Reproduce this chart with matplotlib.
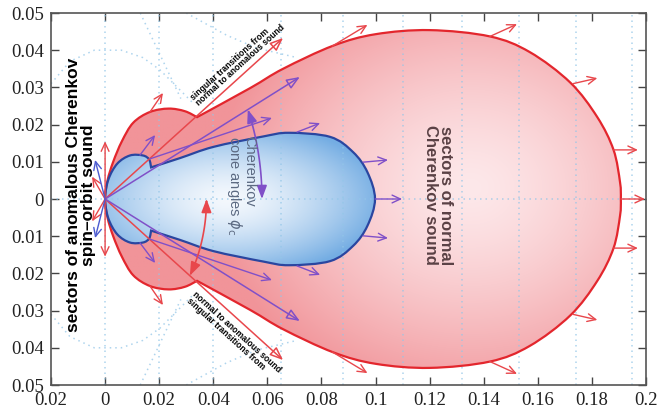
import numpy as np
import matplotlib
matplotlib.use("Agg")
import matplotlib.pyplot as plt
from matplotlib.path import Path
from matplotlib.patches import PathPatch, FancyArrowPatch
from matplotlib.colors import to_rgb

plt.rcParams["font.family"] = ["Liberation Serif", "DejaVu Serif"]

# ---------------- data ----------------
x_ticks = [-0.02, 0.0, 0.02, 0.04, 0.06, 0.08, 0.10, 0.12, 0.14, 0.16, 0.18, 0.20]
x_tick_labels = ["0.02", "0", "0.02", "0.04", "0.06", "0.08", "0.1", "0.12", "0.14", "0.16", "0.18", "0.2"]
y_ticks = [-0.05, -0.04, -0.03, -0.02, -0.01, 0.0, 0.01, 0.02, 0.03, 0.04, 0.05]
y_tick_labels = ["0.05", "0.04", "0.03", "0.02", "0.01", "0", "0.01", "0.02", "0.03", "0.04", "0.05"]

# outer sector (normal + anomalous sound), upper half; lower half is the mirror image
red_lobe_x = [0.0, 0.0009, 0.0030, 0.0062, 0.0104, 0.0166, 0.0235, 0.0295, 0.0340]
red_lobe_y = [0.0, 0.0050, 0.0100, 0.0155, 0.0205, 0.0234, 0.0243, 0.0236, 0.0220]
red_main_x = [0.0340, 0.0536, 0.0658, 0.0843, 0.1000, 0.1200, 0.1423, 0.1570, 0.1720, 0.1820, 0.1880, 0.1904, 0.1907]
red_main_y = [0.0220, 0.0298, 0.0350, 0.0412, 0.0443, 0.0454, 0.0437, 0.0395, 0.0313, 0.0220, 0.0132, 0.0045, 0.0]

# Cherenkov cone (blue), upper half
blue_lobe_x = [0.0, 0.0012, 0.0045, 0.0092, 0.0140, 0.0163, 0.0170]
blue_lobe_y = [0.0, 0.0052, 0.0095, 0.0117, 0.0117, 0.0106, 0.0085]
blue_main_x = [0.0170, 0.0277, 0.0400, 0.0584, 0.0680, 0.0832, 0.0917, 0.0970, 0.0998]
blue_main_y = [0.0085, 0.0110, 0.0140, 0.0168, 0.0178, 0.0167, 0.0126, 0.0072, 0.0]

# singular transition lines (end points, upper half)
red_singular_end = (0.0658, 0.0433)
purple_singular_end = (0.0720, 0.0328)

# normal (group velocity) arrows, upper half: start x, start y, end x, end y
red_arrows = [(0.0, 0.0, 0.0, 0.0155),
              (0.0, 0.0, -0.0048, 0.0060),
              (0.0166, 0.0234, 0.0214, 0.0285),
              (0.0840, 0.0411, 0.0970, 0.0468),
              (0.1423, 0.0437, 0.1523, 0.0470),
              (0.1730, 0.0310, 0.1820, 0.0325),
              (0.1880, 0.0132, 0.1970, 0.0132)]
red_axis_arrows = [(0.1907, 0.0, 0.1996, 0.0)]
purple_arrows = [(0.0129, 0.0118, 0.0185, 0.0172),
                 (0.0166, 0.0108, 0.0617, 0.0218),
                 (0.0710, 0.0180, 0.0795, 0.0204),
                 (0.0954, 0.0099, 0.1046, 0.0105)]
purple_axis_arrows = [(0.0998, 0.0, 0.1098, 0.0)]
blue_arrows = [(0.0, 0.0, -0.0037, 0.0105)]

# cone-angle arcs: radius, start angle, end angle (degrees)
purple_arc = (0.058, 0.0, 24.5)
red_arc = (0.0375, 0.0, -33.3)

# dotted guide lines
guide_vertical_x = [0.0, 0.02, 0.04, 0.065, 0.088, 0.110, 0.132, 0.153, 0.174, 0.195]
guide_a_x = [-0.02, -0.013, -0.004, 0.006, 0.014, 0.0203, 0.0325]
guide_a_y = [0.031, 0.037, 0.040, 0.040, 0.038, 0.0347, 0.0258]
guide_b_x = [0.030, 0.045, 0.056, 0.071]
guide_b_y = [0.050, 0.044, 0.0406, 0.038]
guide_c_x = [0.013, 0.028]
guide_c_y = [0.050, 0.027]

# ---------------- style ----------------
RED_EDGE = "#e3262d"
RED_ARROW = "#e8474c"
BLUE_EDGE = "#2a46a0"
PURPLE = "#8050c8"
INDIGO = "#4c5bd0"
GUIDE = "#93c6e8"
XMIN, XMAX, YMIN, YMAX = -0.02, 0.2, -0.05, 0.05

fig = plt.figure(figsize=(6.63, 4.16), dpi=100)
ax = fig.add_axes([51 / 663, 1 - 385 / 416, 595 / 663, 372 / 416])


def catmull_segments(P):
    P = np.asarray(P, float)
    n = len(P)
    verts = []
    for i in range(n - 1):
        p0 = P[i - 1] if i > 0 else P[i]
        p1, p2 = P[i], P[i + 1]
        p3 = P[i + 2] if i + 2 < n else P[i + 1]
        verts += [p1 + (p2 - p0) / 6.0, p2 - (p3 - p1) / 6.0, p2]
    return verts


def closed_shape(lobe_x, lobe_y, main_x, main_y):
    lobe = np.column_stack([lobe_x, lobe_y])
    main = np.column_stack([main_x, main_y])
    lobe_low = lobe[::-1] * [1, -1]
    main_low = main[::-1] * [1, -1]
    piece1 = np.vstack([lobe_low, lobe[1:]])          # lower cusp -> origin -> upper cusp
    piece2 = np.vstack([main, main_low[1:]])          # upper cusp -> tip -> lower cusp
    verts = [piece1[0]]
    codes = [Path.MOVETO]
    for seg in (piece1, piece2):
        v = catmull_segments(seg)
        verts += v
        codes += [Path.CURVE4] * len(v)
    verts.append(piece1[0])
    codes.append(Path.CLOSEPOLY)
    return Path(np.array(verts), codes)


def gradient_fill(path, center, radii, c_in, c_out, power, zorder):
    xs = np.linspace(XMIN, XMAX, 500)
    ys = np.linspace(YMIN, YMAX, 300)
    X, Y = np.meshgrid(xs, ys)
    r = np.sqrt(((X - center[0]) / radii[0]) ** 2 + ((Y - center[1]) / radii[1]) ** 2)
    t = np.clip(r, 0, 1) ** power
    ci, co = np.array(to_rgb(c_in)), np.array(to_rgb(c_out))
    img = ci[None, None, :] * (1 - t[..., None]) + co[None, None, :] * t[..., None]
    im = ax.imshow(img, extent=(XMIN, XMAX, YMIN, YMAX), origin="lower",
                   aspect="auto", interpolation="bilinear", zorder=zorder)
    clip = PathPatch(path, transform=ax.transData, fc="none", ec="none")
    ax.add_patch(clip)
    im.set_clip_path(clip)


red_path = closed_shape(red_lobe_x, red_lobe_y, red_main_x, red_main_y)
blue_path = closed_shape(blue_lobe_x, blue_lobe_y, blue_main_x, blue_main_y)

gradient_fill(red_path, (0.135, 0.003), (0.095, 0.058), "#fde8ea", "#f19499", 1.4, 2)
ax.add_patch(PathPatch(red_path, fc="none", ec=RED_EDGE, lw=1.6, zorder=6))
gradient_fill(blue_path, (0.045, 0.0), (0.058, 0.021), "#f4f8fd", "#74ade3", 1.5, 4)
ax.add_patch(PathPatch(blue_path, fc="none", ec=BLUE_EDGE, lw=1.6, zorder=6))

# dotted guides
dot = dict(color=GUIDE, lw=1.1, ls=(0, (1, 2.6)), zorder=5, alpha=0.75)
for gx in guide_vertical_x:
    ax.plot([gx, gx], [YMIN, YMAX], **dot)
ax.plot([XMIN, XMAX], [0, 0], **dot)
for gxs, gys in ((guide_a_x, guide_a_y), (guide_b_x, guide_b_y), (guide_c_x, guide_c_y)):
    ax.plot(gxs, gys, **dot)
    ax.plot(gxs, [-v for v in gys], **dot)


def arrow(x0, y0, x1, y1, color, style="->,head_length=0.6,head_width=0.28", lw=1.0, fc=None, z=8):
    props = dict(arrowstyle=style, color=color, lw=lw, shrinkA=0, shrinkB=0)
    if fc is not None:
        props = dict(arrowstyle=style, edgecolor=color, facecolor=fc, lw=lw, shrinkA=0, shrinkB=0)
    return ax.annotate("", xy=(x1, y1), xytext=(x0, y0), arrowprops=props, zorder=z)


# singular lines with open triangles
open_tri = "-|>,head_length=0.8,head_width=0.32"
for end, col in ((red_singular_end, RED_ARROW), (purple_singular_end, PURPLE)):
    arrow(0, 0, end[0], end[1], col, style=open_tri, lw=1.1, fc="none", z=7)
    arrow(0, 0, end[0], -end[1], col, style=open_tri, lw=1.1, fc="none", z=7)

for lst, col in ((red_arrows, RED_ARROW), (purple_arrows, PURPLE), (blue_arrows, INDIGO)):
    for (x0, y0, x1, y1) in lst:
        arrow(x0, y0, x1, y1, col)
        arrow(x0, -y0, x1, -y1, col)
for (x0, y0, x1, y1) in red_axis_arrows:
    arrow(x0, y0, x1, y1, RED_ARROW)
for (x0, y0, x1, y1) in purple_axis_arrows:
    arrow(x0, y0, x1, y1, PURPLE)

# cone-angle arcs
for (rad, a0, a1), col in ((purple_arc, PURPLE), (red_arc, RED_ARROW)):
    th = np.radians(np.linspace(a0, a1, 40))
    arc = Path(np.column_stack([rad * np.cos(th), rad * np.sin(th)]))
    ax.add_patch(FancyArrowPatch(path=arc, arrowstyle="<|-|>,head_length=0.8,head_width=0.3",
                                 mutation_scale=10, color=col, lw=1.2, zorder=9))

# texts
sans = ["Liberation Sans", "DejaVu Sans"]
ax.text(-0.0089, 0.001, "sectors of anomalous Cherenkov\nspin\u2013orbit sound", rotation=90,
        ha="center", va="center", multialignment="center", fontsize=12.5, fontweight="bold",
        family=sans, color="black", linespacing=0.95, zorder=10)
ax.text(0.1231, 0.001, "sectors of normal\nCherenkov sound", rotation=-90,
        ha="center", va="center", multialignment="center", fontsize=12, fontweight="bold",
        family=sans, color="#5a4145", linespacing=0.95, zorder=10)
ax.text(0.0500, 0.0035, "Cherenkov\ncone angles $\\phi_{\\rm c}$", rotation=-90,
        ha="center", va="center", multialignment="left", fontsize=10.5,
        family=sans, color="#5c6a82", linespacing=0.9, zorder=10)
ang = np.degrees(np.arctan2(red_singular_end[1] * 3720, red_singular_end[0] * 2705))
ax.text(0.0352, 0.0245, "singular transitions from\nnormal to anomalous sound", rotation=ang,
        rotation_mode="anchor", ha="left", va="bottom", fontsize=6.2, fontweight="bold",
        family=sans, color="black", linespacing=0.9, zorder=10)
ax.text(0.0340, -0.0245, "normal to anomalous sound\nsingular transitions from", rotation=-ang,
        rotation_mode="anchor", ha="left", va="top", fontsize=6.2, fontweight="bold",
        family=sans, color="black", linespacing=0.9, zorder=10)

# axes
ax.set_xlim(XMIN, XMAX)
ax.set_ylim(YMIN, YMAX)
ax.set_xticks(x_ticks)
ax.set_xticklabels(x_tick_labels, fontfamily=["Liberation Serif", "DejaVu Serif"])
ax.set_yticks(y_ticks)
ax.set_yticklabels(y_tick_labels, fontfamily=["Liberation Serif", "DejaVu Serif"])
ax.tick_params(direction="in", top=True, right=True, length=6, width=1.0, color="#444444",
               labelsize=13.5, labelcolor="#222222", pad=5)
for s in ax.spines.values():
    s.set_color("#555555")
    s.set_linewidth(1.2)
    s.set_zorder(12)

fig.savefig("out.png", dpi=100)
